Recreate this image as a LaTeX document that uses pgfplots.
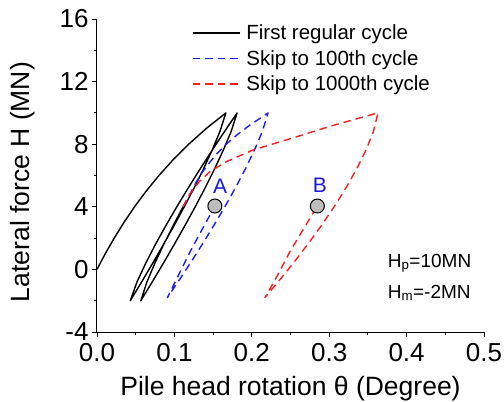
\documentclass[border=0pt]{standalone}
\usepackage{fontspec}
\setmainfont{Liberation Sans}
\usepackage{pgfplots}
\pgfplotsset{compat=1.18}
\definecolor{myblue}{RGB}{30,30,240}
\definecolor{myred}{RGB}{250,30,30}
\definecolor{labelblue}{RGB}{25,25,220}
\definecolor{markgray}{RGB}{190,190,190}
\begin{document}
\begin{tikzpicture}
\begin{axis}[
  scale only axis,
  width=387pt, height=313pt,
  xmin=0, xmax=0.5, ymin=-4, ymax=16,
  axis x line*=bottom, axis y line*=left,
  axis line style={line width=1pt},
  xtick={0,0.1,0.2,0.3,0.4,0.5}, ytick={-4,0,4,8,12,16},
  minor x tick num=1, minor y tick num=1,
  tick align=outside,
  major tick length=5pt, minor tick length=3pt,
  tick style={line width=0.9pt, black},
  xticklabel style={yshift=-2.5pt, /pgf/number format/.cd, fixed, fixed zerofill, precision=1},
  /pgf/number format/assume math mode=true,
  tick label style={font=\fontsize{26}{30}\selectfont},
  xlabel={Pile head rotation θ (Degree)},
  ylabel={Lateral force H (MN)},
  label style={font=\fontsize{26.5}{31}\selectfont},
  xlabel style={at={(axis description cs:0.5,-0.182)}, anchor=center},
  ylabel style={at={(axis description cs:-0.191,0.479)}, anchor=center},
  legend style={at={(axis description cs:0.245,0.985)}, anchor=north west,
    draw=none, fill=none, font=\fontsize{20.5}{24}\selectfont,
    row sep=7.2pt, column sep=5pt, inner sep=0pt, nodes={inner sep=1pt}},
  legend cell align=left,
  legend image code/.code={\draw[#1] (0pt,0pt) -- (47pt,0pt);},
]
% first regular cycle
\addplot[black, line width=1.4pt, line join=round] coordinates {
  (0,0) (0.00523,0.5) (0.01067,1) (0.02224,2) (0.0348,3) (0.0485,4) (0.0635,5)
  (0.0800,6) (0.0982,7) (0.1185,8) (0.1411,9) (0.1665,10)
  (0.1587,8.8) (0.1486,7.6) (0.1374,6.4) (0.1254,5.2) (0.1127,4.0) (0.0996,2.8)
  (0.0860,1.6) (0.0720,0.4) (0.0577,-0.8) (0.043,-2)
  (0.0517,-0.8) (0.0630,0.4) (0.0755,1.6) (0.0890,2.8) (0.1031,4.0) (0.1178,5.2)
  (0.1330,6.4) (0.1486,7.6) (0.1646,8.8) (0.181,10)
  (0.1732,8.8) (0.1630,7.6) (0.1517,6.4) (0.1396,5.2) (0.1269,4.0) (0.1136,2.8)
  (0.0999,1.6) (0.0858,0.4) (0.0714,-0.8) (0.0566,-2)
  (0.0645,-0.8) (0.0748,0.4) (0.0862,1.6) (0.0984,2.8) (0.1112,4.0)
};
\addlegendentry{First regular cycle}
% skip to 100th cycle
\addplot[myblue, line width=1.4pt, line join=round, dash pattern=on 7.5pt off 5pt] coordinates {
  (0.1112,4.0) (0.1165,4.5) (0.122,5.0) (0.1285,5.6) (0.136,6.2) (0.145,6.8)
  (0.155,7.4) (0.167,8.0) (0.181,8.6) (0.197,9.2) (0.221,10)
  (0.2137,8.82) (0.2036,7.64) (0.1921,6.46) (0.1796,5.28) (0.1663,4.10)
  (0.1523,2.92) (0.1378,1.74) (0.1226,0.56) (0.1071,-0.62) (0.091,-1.8)
  (0.1010,-0.8) (0.121,1.2) (0.1523,4.05)
};
\addlegendentry{Skip to 100th cycle}
% skip to 1000th cycle
\addplot[myred, line width=1.4pt, line join=round, dash pattern=on 7.5pt off 5pt] coordinates {
  (0.1112,4.0) (0.1205,4.85) (0.132,5.6) (0.1458,6.24) (0.167,6.88)
  (0.2017,7.63) (0.253,8.4) (0.305,9.2) (0.363,10)
  (0.3572,8.82) (0.3477,7.64) (0.3359,6.46) (0.3225,5.28) (0.3077,4.10)
  (0.2916,2.92) (0.2744,1.74) (0.2562,0.56) (0.2370,-0.62) (0.217,-1.8)
  (0.2320,-0.5) (0.250,1.2) (0.2847,4.05)
};
\addlegendentry{Skip to 1000th cycle}
% end states A and B
\addplot[only marks, mark=*, mark size=7pt,
  mark options={fill=markgray, draw=black, line width=1pt}, forget plot]
  coordinates {(0.1523,4.05) (0.2847,4.05)};
\node[labelblue, font=\fontsize{21}{25}\selectfont, anchor=base] at (axis cs:0.159,4.85) {A};
\node[labelblue, font=\fontsize{21}{25}\selectfont, anchor=base] at (axis cs:0.288,4.9) {B};
\node[anchor=base west, inner sep=0pt, font=\fontsize{19}{23}\selectfont] at (axis cs:0.3755,0.15) {H\textsubscript{p}=10MN};
\node[anchor=base west, inner sep=0pt, font=\fontsize{19}{23}\selectfont] at (axis cs:0.3755,-1.83) {H\textsubscript{m}=-2MN};
\end{axis}
\pgfresetboundingbox
\path[use as bounding box] (current axis.south west) ++(-97pt,-70pt) rectangle ++(504pt,402pt);
\end{tikzpicture}
\end{document}
